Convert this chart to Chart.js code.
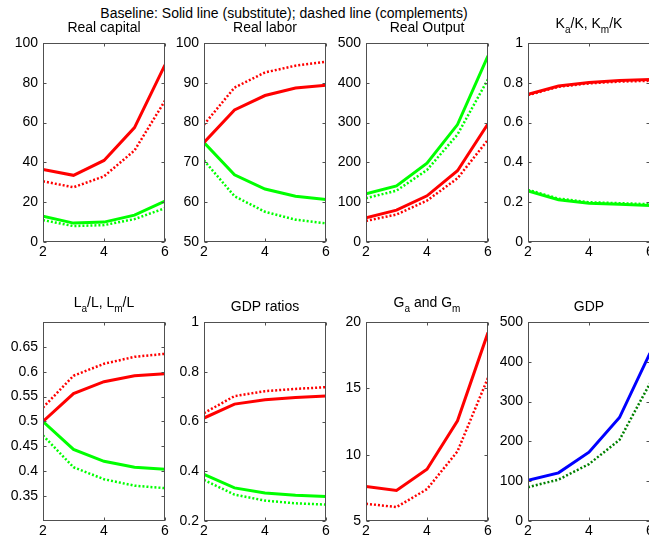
<!DOCTYPE html>
<html><head><meta charset="utf-8">
<script src="https://cdn.jsdelivr.net/npm/chart.js@4.4.1/dist/chart.umd.min.js"></script>
<style>
html,body{margin:0;padding:0;background:#fff;width:649px;height:541px;overflow:hidden;position:relative}
canvas{position:absolute}
#sup{position:absolute;left:0;width:568px;text-align:center;top:5px;font:14px "Liberation Sans",Arial,sans-serif;line-height:16px;color:#000;white-space:nowrap}
</style></head><body>
<div id="sup">Baseline: Solid line (substitute); dashed line (complements)</div>
<script>
// ---------------- DATA ----------------
const xValues = [2, 3, 4, 5, 6];
const xTicks = [2, 4, 6];

const panelTitles = ['Real capital', 'Real labor', 'Real Output', 'K_a/K, K_m/K',
                     'L_a/L, L_m/L', 'GDP ratios', 'G_a and G_m', 'GDP'];

// Real capital
const capitalSubRed   = [36.5, 33.5, 41, 57.5, 89];
const capitalCompRed  = [30.5, 27.5, 33, 46, 71];
const capitalSubGreen = [13, 9.5, 10, 13.5, 20.5];
const capitalCompGreen= [11, 8, 8.5, 11.5, 17];
const capitalYTicks   = [0, 20, 40, 60, 80, 100];
const capitalYRange   = [0, 100];

// Real labor
const laborSubRed   = [75, 83.2, 86.8, 88.7, 89.4];
const laborCompRed  = [79.5, 88.8, 92.6, 94.3, 95.3];
const laborSubGreen = [75, 66.9, 63.3, 61.5, 60.7];
const laborCompGreen= [70.5, 61.5, 57.6, 55.6, 54.7];
const laborYTicks   = [50, 60, 70, 80, 90, 100];
const laborYRange   = [50, 100];

// Real Output
const outputSubGreen = [121, 141, 198, 295, 468];
const outputCompGreen= [110, 129, 181, 270, 409];
const outputSubRed   = [61, 80, 116, 179, 297];
const outputCompRed  = [53, 69, 104, 160, 257];
const outputYTicks   = [0, 100, 200, 300, 400, 500];
const outputYRange   = [0, 500];

// Ka/K, Km/K
const kShareSubRed   = [0.742, 0.784, 0.801, 0.811, 0.816];
const kShareCompRed  = [0.738, 0.780, 0.797, 0.806, 0.810];
const kShareSubGreen = [0.256, 0.212, 0.195, 0.190, 0.184];
const kShareCompGreen= [0.262, 0.218, 0.200, 0.195, 0.190];
const kShareYTicks   = [0, 0.2, 0.4, 0.6, 0.8, 1];
const kShareYRange   = [0, 1];

// La/L, Lm/L
const lShareSubRed   = [0.5, 0.556, 0.580, 0.592, 0.596];
const lShareCompRed  = [0.528, 0.592, 0.616, 0.630, 0.636];
const lShareSubGreen = [0.5, 0.444, 0.420, 0.408, 0.404];
const lShareCompGreen= [0.472, 0.408, 0.384, 0.371, 0.366];
const lShareYTicks   = [0.35, 0.4, 0.45, 0.5, 0.55, 0.6, 0.65];
const lShareYRange   = [0.3, 0.7];

// GDP ratios
const gdpRatioSubRed   = [0.614, 0.670, 0.687, 0.696, 0.703];
const gdpRatioCompRed  = [0.634, 0.702, 0.722, 0.731, 0.738];
const gdpRatioSubGreen = [0.387, 0.333, 0.313, 0.304, 0.298];
const gdpRatioCompGreen= [0.365, 0.306, 0.282, 0.271, 0.266];
const gdpRatioYTicks   = [0.2, 0.4, 0.6, 0.8, 1];
const gdpRatioYRange   = [0.2, 1];

// Ga and Gm
const govSub   = [7.6, 7.3, 8.9, 12.55, 19.2];
const govComp  = [6.3, 6.05, 7.4, 10.25, 15.8];
const govYTicks = [5, 10, 15, 20];
const govYRange = [5, 20];

// GDP
const gdpSub   = [102, 121, 173, 260, 422];
const gdpComp  = [85, 104, 143, 204, 346];
const gdpYTicks = [0, 100, 200, 300, 400, 500];
const gdpYRange = [0, 500];

// ---------------- STYLE / LAYOUT ----------------
const RED = '#ff0000', GREEN = '#00ff00', BLUE = '#0000ff', DKGREEN = '#008000';
const AXIS_COLOR = '#505050';
const FONT = '"Liberation Sans", Arial, Helvetica, sans-serif';
const colLefts = [43, 204, 366, 528];
const rowTops = [43, 322];
const PW = 122, PH = 199;
const PAD_L = 60, PAD_T = 45, PAD_R = 15, PAD_B = 30;
const TICK = 3;

Chart.defaults.font.family = FONT;
Chart.defaults.font.size = 14;
Chart.defaults.color = '#000';

const panels = [
  { title: panelTitles[0], range: capitalYRange, yTicks: capitalYTicks, series: [
    [capitalSubRed, RED, true], [capitalSubGreen, GREEN, true],
    [capitalCompRed, RED, false], [capitalCompGreen, GREEN, false]] },
  { title: panelTitles[1], range: laborYRange, yTicks: laborYTicks, series: [
    [laborSubRed, RED, true], [laborSubGreen, GREEN, true],
    [laborCompRed, RED, false], [laborCompGreen, GREEN, false]] },
  { title: panelTitles[2], range: outputYRange, yTicks: outputYTicks, series: [
    [outputSubGreen, GREEN, true], [outputSubRed, RED, true],
    [outputCompGreen, GREEN, false], [outputCompRed, RED, false]] },
  { title: panelTitles[3], range: kShareYRange, yTicks: kShareYTicks, series: [
    [kShareSubRed, RED, true], [kShareSubGreen, GREEN, true],
    [kShareCompRed, RED, false], [kShareCompGreen, GREEN, false]] },
  { title: panelTitles[4], range: lShareYRange, yTicks: lShareYTicks, series: [
    [lShareSubRed, RED, true], [lShareSubGreen, GREEN, true],
    [lShareCompRed, RED, false], [lShareCompGreen, GREEN, false]] },
  { title: panelTitles[5], range: gdpRatioYRange, yTicks: gdpRatioYTicks, series: [
    [gdpRatioSubRed, RED, true], [gdpRatioSubGreen, GREEN, true],
    [gdpRatioCompRed, RED, false], [gdpRatioCompGreen, GREEN, false]] },
  { title: panelTitles[6], range: govYRange, yTicks: govYTicks, series: [
    [govSub, RED, true], [govComp, RED, false]] },
  { title: panelTitles[7], range: gdpYRange, yTicks: gdpYTicks, series: [
    [gdpSub, BLUE, true], [gdpComp, DKGREEN, false]] }
];

function parseTitle(s) {
  const segs = [];
  let buf = '';
  for (let i = 0; i < s.length; i++) {
    if (s[i] === '_' && i + 1 < s.length) {
      if (buf) segs.push({ t: buf, sub: false });
      buf = '';
      segs.push({ t: s[i + 1], sub: true });
      i++;
    } else buf += s[i];
  }
  if (buf) segs.push({ t: buf, sub: false });
  return segs;
}

const matlabAxes = {
  id: 'matlabAxes',
  afterDraw(chart) {
    const { ctx, chartArea: a, scales } = chart;
    const ttl = chart.options.plugins.matlabAxes.title;
    ctx.save();
    ctx.strokeStyle = AXIS_COLOR;
    ctx.lineWidth = 1;
    const l = Math.round(a.left) + 0.5, r = Math.round(a.right) - 0.5;
    const t = Math.round(a.top) + 0.5, b = Math.round(a.bottom) - 0.5;
    ctx.strokeRect(l, t, r - l, b - t);
    ctx.beginPath();
    scales.x.ticks.forEach(tk => {
      const px = Math.round(scales.x.getPixelForValue(tk.value)) + 0.5;
      ctx.moveTo(px, b); ctx.lineTo(px, b - TICK);
      ctx.moveTo(px, t); ctx.lineTo(px, t + TICK);
    });
    scales.y.ticks.forEach(tk => {
      const py = Math.round(scales.y.getPixelForValue(tk.value)) + 0.5;
      ctx.moveTo(l, py); ctx.lineTo(l + TICK, py);
      ctx.moveTo(r, py); ctx.lineTo(r - TICK, py);
    });
    ctx.stroke();
    // title
    const segs = parseTitle(ttl);
    const hasSub = segs.some(s => s.sub);
    const mainFont = '14px ' + FONT, subFont = '10px ' + FONT;
    let w = 0;
    segs.forEach(s => { ctx.font = s.sub ? subFont : mainFont; s.w = ctx.measureText(s.t).width; w += s.w; });
    let x = (a.left + a.right) / 2 - w / 2;
    const base = a.top - (hasSub ? 15.5 : 11);
    ctx.fillStyle = '#000';
    ctx.textBaseline = 'alphabetic';
    ctx.textAlign = 'left';
    segs.forEach(s => {
      ctx.font = s.sub ? subFont : mainFont;
      ctx.fillText(s.t, x, s.sub ? base + 5 : base);
      x += s.w;
    });
    ctx.restore();
  }
};

panels.forEach((p, i) => {
  const col = i % 4, row = Math.floor(i / 4);
  const cv = document.createElement('canvas');
  const W = PW + PAD_L + PAD_R, H = PH + PAD_T + PAD_B;
  cv.width = W; cv.height = H;
  cv.style.width = W + 'px'; cv.style.height = H + 'px';
  cv.style.left = (colLefts[col] - PAD_L) + 'px';
  cv.style.top = (rowTops[row] - PAD_T) + 'px';
  document.body.appendChild(cv);
  const datasets = p.series.map(([vals, color, solid]) => ({
    data: xValues.map((x, k) => ({ x: x, y: vals[k] })),
    borderColor: color,
    borderWidth: solid ? 3 : 2.5,
    borderDash: solid ? [] : [2, 2],
    pointRadius: 0,
    tension: 0,
    fill: false
  }));
  new Chart(cv, {
    type: 'line',
    data: { datasets },
    plugins: [matlabAxes],
    options: {
      responsive: false, animation: false, devicePixelRatio: 1,
      layout: { padding: { left: 0, top: PAD_T, right: PAD_R, bottom: 0 } },
      plugins: { legend: { display: false }, tooltip: { enabled: false }, matlabAxes: { title: p.title } },
      scales: {
        x: {
          type: 'linear', min: xValues[0], max: xValues[xValues.length - 1],
          grid: { display: false, drawTicks: false }, border: { display: false },
          ticks: { padding: 2, color: '#000', font: { size: 14 }, maxRotation: 0, callback: v => String(v) },
          afterBuildTicks: ax => { ax.ticks = xTicks.map(v => ({ value: v })); },
          afterFit: ax => { ax.height = PAD_B; }
        },
        y: {
          type: 'linear', min: p.range[0], max: p.range[1],
          grid: { display: false, drawTicks: false }, border: { display: false },
          ticks: { padding: 5, color: '#000', font: { size: 14 }, callback: v => String(v) },
          afterBuildTicks: ax => { ax.ticks = p.yTicks.map(v => ({ value: v })); },
          afterFit: ax => { ax.width = PAD_L; }
        }
      }
    }
  });
});
</script>
</body></html>
